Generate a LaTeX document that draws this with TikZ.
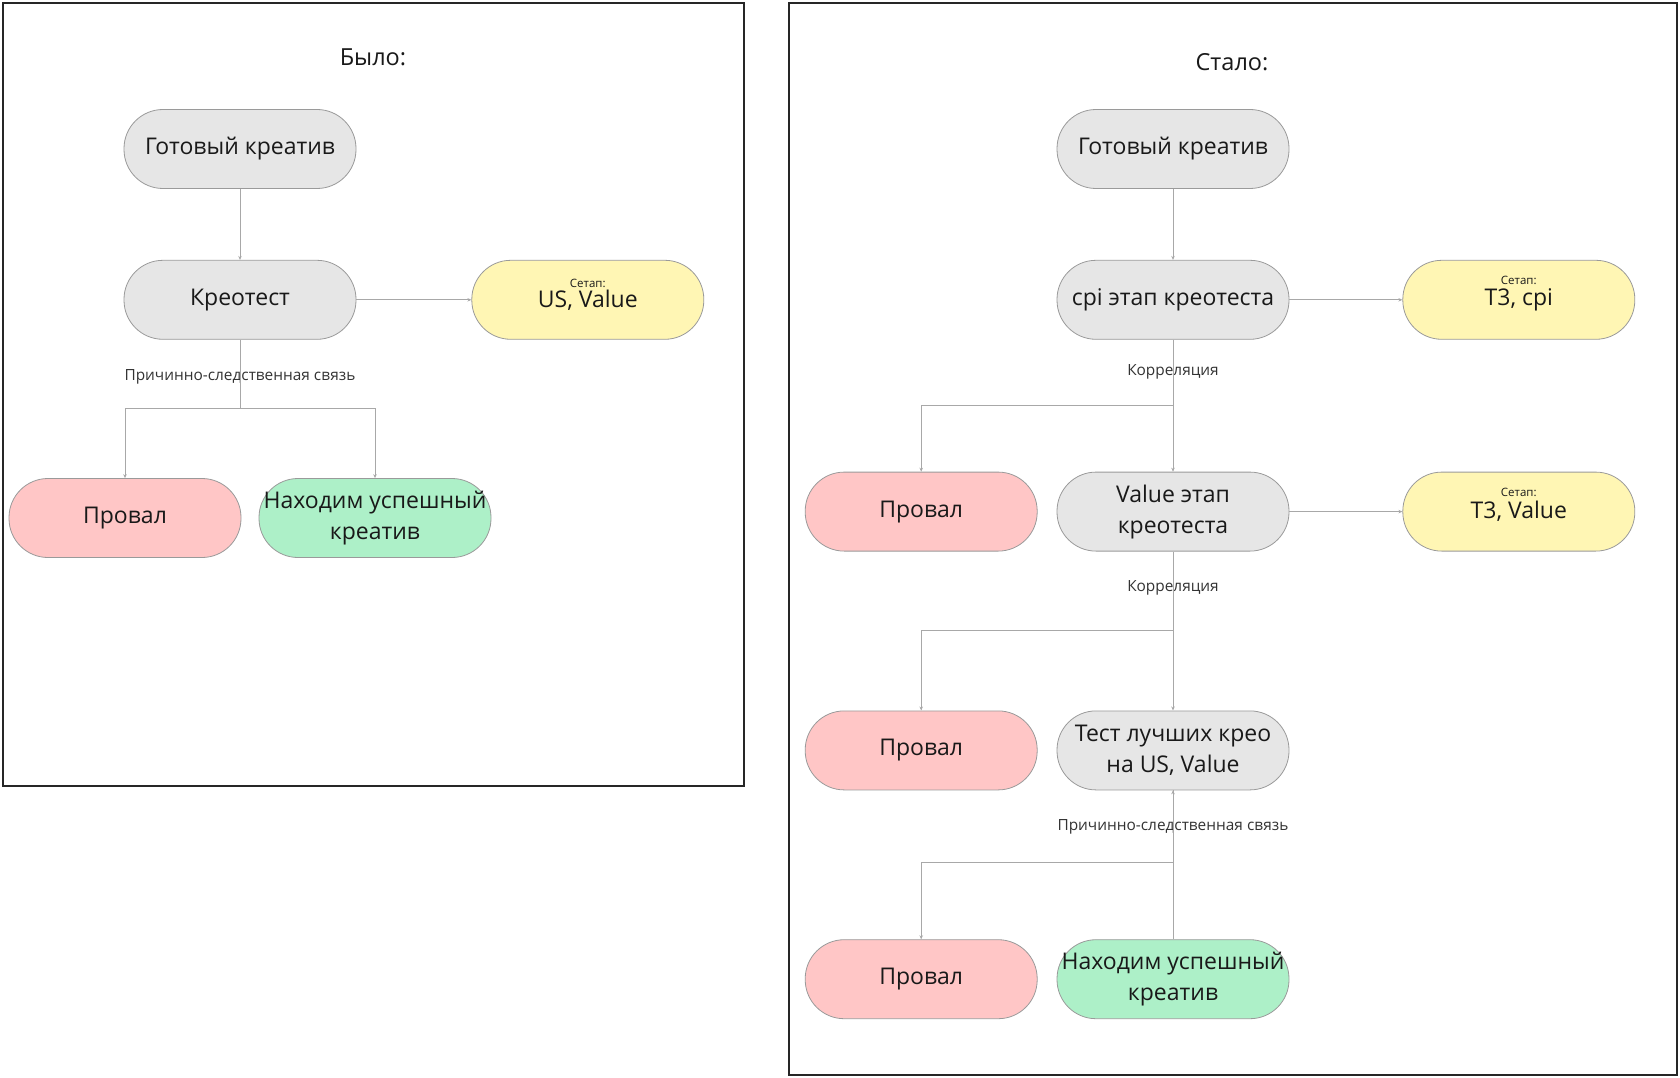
\documentclass[tikz,border=0pt]{standalone}
\usepackage{fontspec}
\setmainfont{Open Sans}
\usetikzlibrary{positioning,arrows.meta}

\definecolor{boxgrey}{HTML}{E6E6E6}
\definecolor{boxpink}{HTML}{FFC6C6}
\definecolor{boxgreen}{HTML}{ADF0C8}
\definecolor{boxyellow}{HTML}{FFF6B4}
\definecolor{edgegrey}{HTML}{9A9A9A}
\definecolor{linegrey}{HTML}{A8A8A8}

\tikzset{
  pill/.style={draw=edgegrey, line width=0.8pt, rounded corners=39pt,
    minimum width=232pt, minimum height=79pt, align=center, inner sep=2pt,
    text=black!90, font=\fontsize{23}{31}\selectfont},
  greypill/.style={pill, fill=boxgrey},
  failpill/.style={pill, fill=boxpink},
  winpill/.style={pill, fill=boxgreen},
  setuppill/.style={pill, fill=boxyellow},
  plain/.style={draw=linegrey, line width=0.9pt},
  link/.style={plain, -{Stealth[length=4pt,width=3.5pt]}},
  edgelbl/.style={font=\fontsize{15.4}{17}\selectfont, text=black!80},
  setuplbl/.style={font=\fontsize{11.5}{13}\selectfont, text=black!90},
  heading/.style={font=\fontsize{23.5}{26}\selectfont, text=black!90},
  frame/.style={draw=black!85, line width=2.5pt}
}

\begin{document}
\begin{tikzpicture}[x=1pt, y=-1pt]
  \useasboundingbox (0,0) rectangle (1680,1078);

  % Рамки
  \draw[frame] (3,3) rectangle (744,786);
  \draw[frame] (789,3) rectangle (1677,1075);

  % Было
  \node[heading] (was) at (373,57) {Было:};
  \node[greypill] (ready1) at (240,149) {Готовый креатив};
  \node[greypill, below=71pt of ready1] (kreo) {Креотест};
  \node[setuppill, right=115pt of kreo] (usval) {US, Value};
  \node[setuplbl] (setup1) at ([yshift=16pt]usval.center) {Сетап:};
  \node[failpill] (fail1) at (125,518) {Провал};
  \node[winpill] (win1) at (375,518) {Находим успешный\\креатив};
  \coordinate (split1) at (240,408);
  \node[edgelbl] (cause1) at (240,377) {Причинно-следственная связь};

  \draw[link] (ready1) -- (kreo);
  \draw[link] (kreo) -- (usval);
  \draw[plain] (kreo) -- (split1);
  \draw[link] (split1) -| (fail1);
  \draw[link] (split1) -| (win1);

  % Стало
  \node[heading] (now) at (1232,62) {Стало:};
  \node[greypill] (ready2) at (1173,149) {Готовый креатив};
  \node[greypill, below=71pt of ready2] (cpi) {cpi этап креотеста};
  \node[setuppill, right=113pt of cpi] (tzcpi) {Т3, cpi};
  \node[setuplbl] (setup2) at ([yshift=19pt]tzcpi.center) {Сетап:};
  \node[greypill, below=132pt of cpi] (value) {Value этап\\креотеста};
  \node[failpill, left=19pt of value] (fail2) {Провал};
  \node[setuppill, right=113pt of value] (tzval) {Т3, Value};
  \node[setuplbl] (setup3) at ([yshift=19pt]tzval.center) {Сетап:};
  \node[greypill, below=159pt of value] (best) {Тест лучших крео\\на US, Value};
  \node[failpill, left=19pt of best] (fail3) {Провал};
  \node[winpill, below=149pt of best] (win2) {Находим успешный\\креатив};
  \node[failpill, left=19pt of win2] (fail4) {Провал};

  \coordinate (split2) at (1173,405);
  \coordinate (split3) at (1173,630);
  \coordinate (split4) at (1173,862);
  \node[edgelbl] (corr1) at (1173,372) {Корреляция};
  \node[edgelbl] (corr2) at (1173,588) {Корреляция};
  \node[edgelbl] (cause2) at (1173,827) {Причинно-следственная связь};

  \draw[link] (ready2) -- (cpi);
  \draw[link] (cpi) -- (tzcpi);
  \draw[link] (cpi) -- (value);
  \draw[link] (split2) -| (fail2);
  \draw[link] (value) -- (tzval);
  \draw[link] (value) -- (best);
  \draw[link] (split3) -| (fail3);
  \draw[plain] (best) -- (split4);
  \draw[link] (split4) -| (fail4);
  \draw[link] (win2) -- (best);
\end{tikzpicture}
\end{document}
